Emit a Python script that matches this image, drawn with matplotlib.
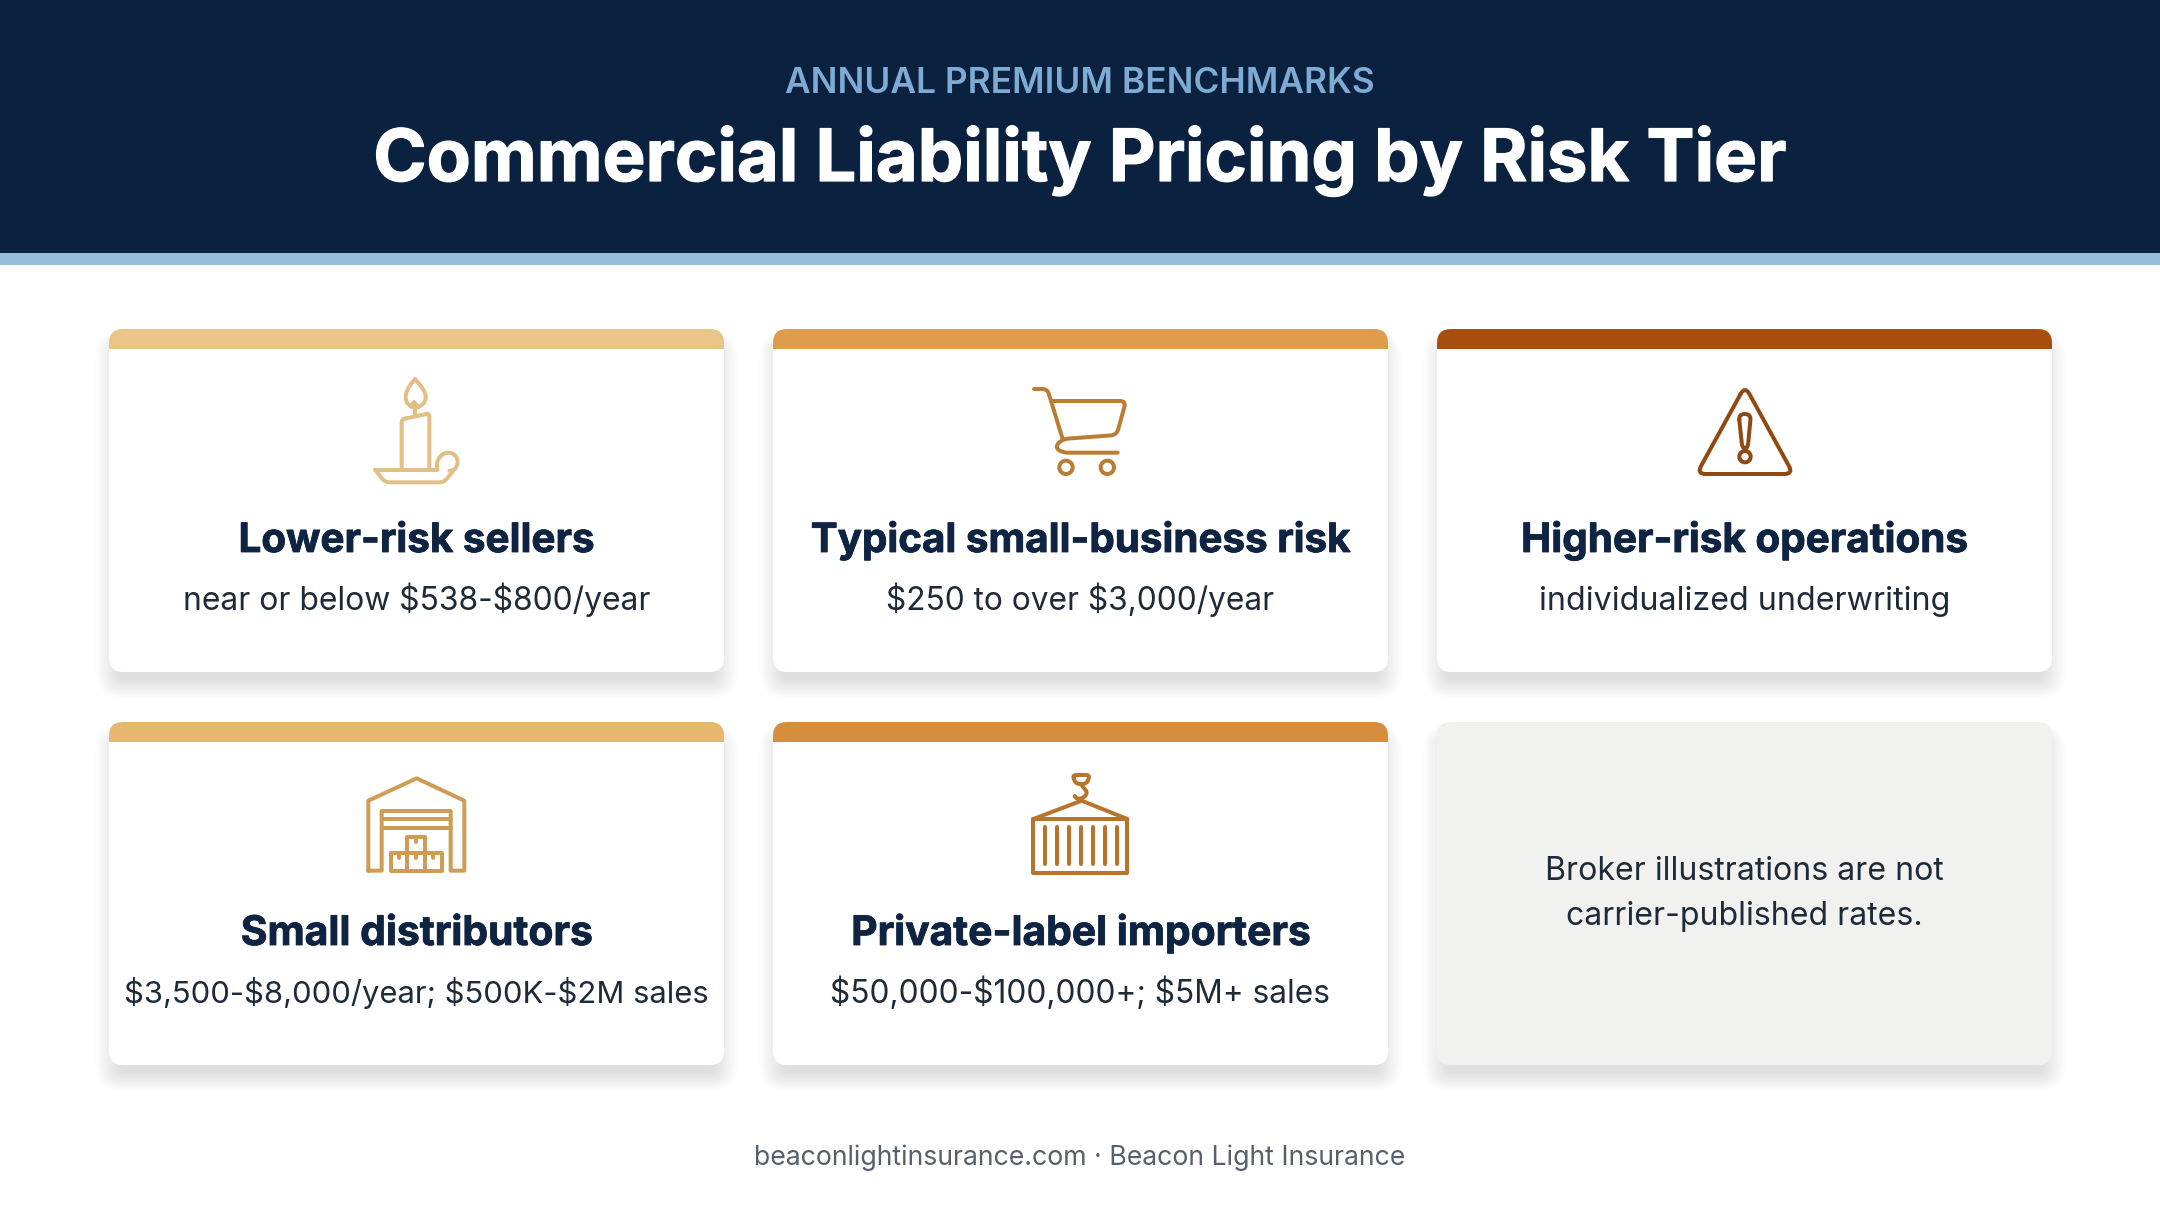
import matplotlib
matplotlib.use("Agg")
import matplotlib.pyplot as plt
from matplotlib.patches import FancyBboxPatch, Rectangle, Circle, PathPatch
from matplotlib.path import Path
import matplotlib.patheffects as pe
import numpy as np

kicker = "ANNUAL PREMIUM BENCHMARKS"
title = "Commercial Liability Pricing by Risk Tier"
headings = ["Lower-risk sellers", "Typical small-business risk", "Higher-risk operations",
            "Small distributors", "Private-label importers"]
details = ["near or below $538-$800/year", "$250 to over $3,000/year", "individualized underwriting",
           "$3,500-$8,000/year; $500K-$2M sales", "$50,000-$100,000+; $5M+ sales"]
note_lines = ["Broker illustrations are not", "carrier-published rates."]
footer = "beaconlightinsurance.com · Beacon Light Insurance"

bar_colors = ["#E9C588", "#DE9C4C", "#A54E0D", "#E6B86E", "#D58E3D"]
icon_colors = ["#E3BE85", "#B97E34", "#8F4A14", "#CF9C55", "#B7742A"]
NAVY, BAND, HEAD, BODY, FOOT = "#0A2140", "#97C0DC", "#0E2442", "#1E2A38", "#57616D"
heading_widths = [357, 541, 448, 353, 460]
detail_widths = [468, 388, 409, 584, 499]

W, H = 2160, 1206
plt.rcParams['font.family'] = ['Inter', 'DejaVu Sans']
fig = plt.figure(figsize=(W/100, H/100), dpi=100, facecolor="white")
ax = fig.add_axes([0, 0, 1, 1])
ax.set_xlim(0, W); ax.set_ylim(H, 0); ax.axis("off")
renderer = fig.canvas.get_renderer()


def fit(s, width, weight):
    t = ax.text(0, 0, s, fontsize=20, fontweight=weight, parse_math=False)
    w = t.get_window_extent(renderer).width
    t.remove()
    return 20 * width / w


def heavy(t, color, w):
    t.set_path_effects([pe.withStroke(linewidth=w, foreground=color)])


ax.add_patch(Rectangle((0, 0), W, 253, fc=NAVY, ec="none"))
ax.add_patch(Rectangle((0, 253), W, 12, fc=BAND, ec="none"))
ax.text(W/2, 93, kicker, ha="center", va="baseline", color="#7FABD2", fontweight="semibold",
        fontsize=fit(kicker, 588, "semibold"))
heavy(ax.text(W/2, 181, title, ha="center", va="baseline", color="white", fontweight="bold",
              fontsize=fit(title, 1415, "bold")), "white", 0.9)

xs = [109, 773, 1437]
ys = [329, 722]
cw, ch, rad, barh = 615, 343, 14, 20


def rrect(x, y, w, h, r, **kw):
    return FancyBboxPatch((x+r, y+r), w-2*r, h-2*r, boxstyle=f"round,pad={r},rounding_size={r}", **kw)


def card(x, y, fc, bar=None):
    n = 32
    for i in range(n):
        g = 24 - i
        gx = (g - 6) * 0.8
        ax.add_patch(rrect(x-gx, y+12-g*0.4, cw+2*gx, ch+g*1.0, max(rad+gx, 6), fc="#30343C", ec="none", alpha=0.0038))
    ax.add_patch(rrect(x, y, cw, ch, rad, fc=fc, ec="none"))
    if bar:
        p = rrect(x, y, cw, ch, rad, fc=bar, ec="none")
        ax.add_patch(p)
        p.set_clip_path(Rectangle((x, y), cw, barh, transform=ax.transData))


def rounded(pts, r, closed=False):
    pts = [np.array(p, float) for p in pts]
    n = len(pts)
    v, c = [], []
    rng = range(n) if closed else range(1, n-1)
    for k, i in enumerate(rng):
        a, b, d = pts[i-1], pts[i], pts[(i+1) % n]
        p1 = b + (a-b)/np.linalg.norm(a-b)*min(r, np.linalg.norm(a-b)/2)
        p2 = b + (d-b)/np.linalg.norm(d-b)*min(r, np.linalg.norm(d-b)/2)
        if k == 0:
            if closed:
                v.append(p1); c.append(Path.MOVETO)
            else:
                v += [pts[0], p1]; c += [Path.MOVETO, Path.LINETO]
        else:
            v.append(p1); c.append(Path.LINETO)
        v += [b, p2]; c += [Path.CURVE3, Path.CURVE3]
    if closed:
        v.append(v[0]); c.append(Path.LINETO)
    else:
        v.append(pts[-1]); c.append(Path.LINETO)
    return Path(v, c)


class Icon:
    def __init__(self, ox, oy, color, lw=4.0, scale=3.0):
        self.ox, self.oy, self.color, self.s = ox, oy, color, scale
        self.lw = lw * 0.72

    def t(self, pts):
        return [(self.ox + x/self.s, self.oy + y/self.s) for x, y in pts]

    def line(self, pts, r=0, closed=False):
        q = self.t(pts)
        if r:
            path = rounded(q, r, closed)
        else:
            path = Path(q + ([q[0]] if closed else []))
        ax.add_patch(PathPatch(path, fc="none", ec=self.color, lw=self.lw, capstyle="round", joinstyle="round"))

    def circle(self, c, r):
        (x, y), = self.t([c])
        ax.add_patch(Circle((x, y), r/self.s, fc="none", ec=self.color, lw=self.lw))

    def curve(self, pts):
        q = self.t(pts)
        codes = [Path.MOVETO] + [Path.CURVE4]*(len(q)-1)
        ax.add_patch(PathPatch(Path(q, codes), fc="none", ec=self.color, lw=self.lw, capstyle="round"))


def candle(ic):
    ic.curve([(225, 57), (205, 80), (197, 95), (197, 112), (197, 130), (212, 142), (225, 142),
              (240, 142), (257, 130), (257, 112), (257, 95), (245, 80), (225, 57)])
    ic.line([(212, 140), (222, 126), (235, 142)])
    ic.line([(225, 142), (225, 166)])
    ic.line([(185, 326), (185, 178), (268, 160), (268, 326)], r=3)
    ic.line([(105, 329), (292, 329)])
    ic.line([(105, 329), (135, 367), (312, 367), (340, 332)], r=5)
    ic.curve([(292, 329), (285, 300), (305, 278), (325, 278), (345, 278), (356, 296), (352, 312),
              (349, 326), (342, 332), (328, 332)])


def cart(ic):
    ic.line([(162, 117), (202, 117), (248, 267)], r=5)
    ic.line([(215, 153), (438, 153), (410, 255), (248, 267), (225, 290), (245, 308), (413, 308)], r=6)
    ic.circle((258, 352), 20)
    ic.circle((382, 352), 20)


def warning(ic):
    ic.line([(315, 108), (460, 372), (170, 372)], r=9, closed=True)
    ic.line([(296, 192), (333, 192), (323, 296), (307, 296)], r=6, closed=True)
    ic.circle((315, 320), 17)


def warehouse(ic):
    ic.line([(145, 362), (145, 152), (290, 85), (433, 152), (433, 362), (392, 362), (392, 183),
             (185, 183), (185, 362)], closed=True)
    ic.line([(185, 207), (392, 207)])
    ic.line([(185, 235), (392, 235)])
    ic.line([(212, 310), (365, 310), (365, 362), (212, 362)], closed=True)
    ic.line([(262, 362), (262, 262), (315, 262), (315, 362)])
    for x, y in [(238, 310), (288, 310), (340, 310), (288, 262)]:
        ic.line([(x, y), (x, y+14)])


def container(ic):
    ic.line([(277, 75), (330, 75), (320, 102), (288, 102)], r=4, closed=True)
    ic.curve([(304, 104), (310, 115), (325, 122), (318, 134), (312, 146), (290, 152), (284, 138)])
    ic.line([(160, 207), (305, 152), (442, 207)])
    ic.line([(160, 207), (442, 207), (442, 368), (160, 368)], closed=True)
    for x in [195, 232, 268, 303, 340, 375, 410]:
        ic.line([(x, 232), (x, 342)])


draw_icon = [candle, cart, warning, warehouse, container]
icon_origin = [(340, 360), (980, 350), (1640, 350), (320, 750), (980, 750)]

n_size = fit(note_lines[0], 398, "normal")
f_size = fit(footer, 652, "normal")

for i in range(6):
    x, y = xs[i % 3], ys[i // 3]
    cx = x + cw/2
    if i < 5:
        card(x, y, "white", bar_colors[i])
        draw_icon[i](Icon(*icon_origin[i], icon_colors[i]))
        heavy(ax.text(cx, y+223, headings[i], ha="center", va="baseline", color=HEAD, fontweight="bold",
                      fontsize=fit(headings[i], heading_widths[i], "bold"), parse_math=False), HEAD, 0.6)
        ax.text(cx, y+281, details[i], ha="center", va="baseline", color=BODY,
                fontsize=fit(details[i], detail_widths[i], "normal"), parse_math=False)
    else:
        card(x, y, "#F1F1F0")
        for j, s in enumerate(note_lines):
            ax.text(cx, 880+j*45, s, ha="center", va="baseline", color=BODY, fontsize=n_size)

ax.text(W/2, 1165, footer, ha="center", va="baseline", color=FOOT, fontsize=f_size)
fig.savefig("out.png", dpi=100, facecolor="white")
